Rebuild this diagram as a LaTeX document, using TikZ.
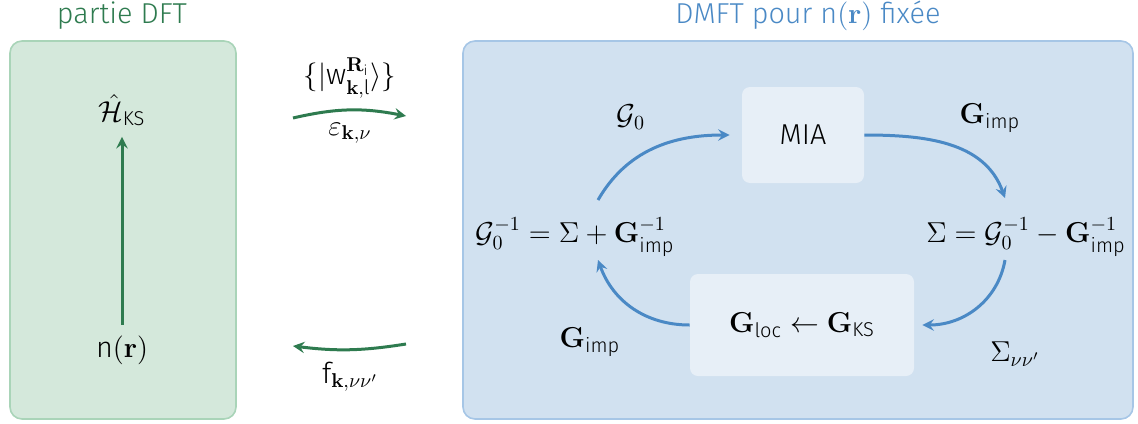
\documentclass[tikz,border=0pt]{standalone}
\usepackage{amsmath}
\usepackage[no-math]{fontspec}
\setmainfont{Fira Sans Light}
\usetikzlibrary{arrows}

\definecolor{dftdark}{HTML}{2E7B4F}
\definecolor{dftfill}{HTML}{D4E8DB}
\definecolor{dftline}{HTML}{A9D4B8}
\definecolor{dmftdark}{HTML}{4A89C5}
\definecolor{dmftfill}{HTML}{D1E1F0}
\definecolor{dmftline}{HTML}{A6C6E6}
\definecolor{innerfill}{HTML}{E7EFF7}

\tikzset{
  panel/.style={rounded corners=6pt, line width=0.8pt},
  inner box/.style={fill=innerfill, rounded corners=4pt},
  greenarrow/.style={->, >=stealth, draw=dftdark, line width=1.5pt},
  bluearrow/.style={->, >=stealth, draw=dmftdark, line width=1.5pt},
}

\begin{document}
\begin{tikzpicture}[x=0.5pt, y=-0.5pt, font=\Large]
  \useasboundingbox (0,0) rectangle (1138,423);
  % DFT panel
  \draw[panel, fill=dftfill, draw=dftline] (10,41) rectangle (236,419);
  \node[text=dftdark] (dfttitle) at (122,16) {partie DFT};
  \node (hks) at (122,110) {$\hat{\mathcal{H}}_{\text{KS}}$};
  \node (nr) at (122,350) {$\text{n}(\mathbf{r})$};
  \draw[greenarrow] ([yshift=2pt]nr.north) -- ([yshift=-2pt]hks.south);

  % exchanges
  \coordinate (topstart) at (293,118);
  \coordinate (topend) at (406,116);
  \coordinate (botstart) at (406,344);
  \coordinate (botend) at (293,346);
  \draw[greenarrow] (topstart) to[bend left=12] (topend);
  \draw[greenarrow] (botstart) to[bend left=8] (botend);
  \node (wannier) at (350,78) {$\{|\text{w}^{\mathbf{R}_\text{i}}_{\mathbf{k},\text{l}}\rangle\}$};
  \node (eps) at (350,133) {$\varepsilon_{\mathbf{k},\nu}$};
  \node (occ) at (350,377) {$\text{f}_{\mathbf{k},\nu\nu'}$};

  % DMFT panel
  \draw[panel, fill=dmftfill, draw=dmftline] (463,41) rectangle (1133,419);
  \node[text=dmftdark] (dmfttitle) at (808,16) {DMFT pour $\text{n}(\mathbf{r})$ fixée};
  \node[inner box, minimum width=61pt, minimum height=48pt] (mia) at (803,135) {MIA};
  \node[inner box, minimum width=112pt, minimum height=51pt] (gloc) at (802,325)
    {$\mathbf{G}_{\text{loc}} \leftarrow \mathbf{G}_{\text{KS}}$};
  \node (lefteq) at (575,237) {$\mathcal{G}_0^{-1} = \Sigma + \mathbf{G}_{\text{imp}}^{-1}$};
  \node (righteq) at (1026,237) {$\Sigma = \mathcal{G}_0^{-1} - \mathbf{G}_{\text{imp}}^{-1}$};

  \draw[bluearrow] (598,200) to[out=60, in=180] ([xshift=-6pt]mia.west);
  \draw[bluearrow] (mia.east) to[out=0, in=110] (1005,198);
  \draw[bluearrow] (1005,260) to[out=-100, in=0] ([xshift=4pt]gloc.east);
  \draw[bluearrow] (gloc.west) to[out=180, in=-70] (598,260);

  \node (g0) at (631,117) {$\mathcal{G}_0$};
  \node (gimptop) at (990,118) {$\mathbf{G}_{\text{imp}}$};
  \node (sigma) at (1015,354) {$\Sigma_{\nu\nu'}$};
  \node (gimpbot) at (590,342) {$\mathbf{G}_{\text{imp}}$};
\end{tikzpicture}
\end{document}
